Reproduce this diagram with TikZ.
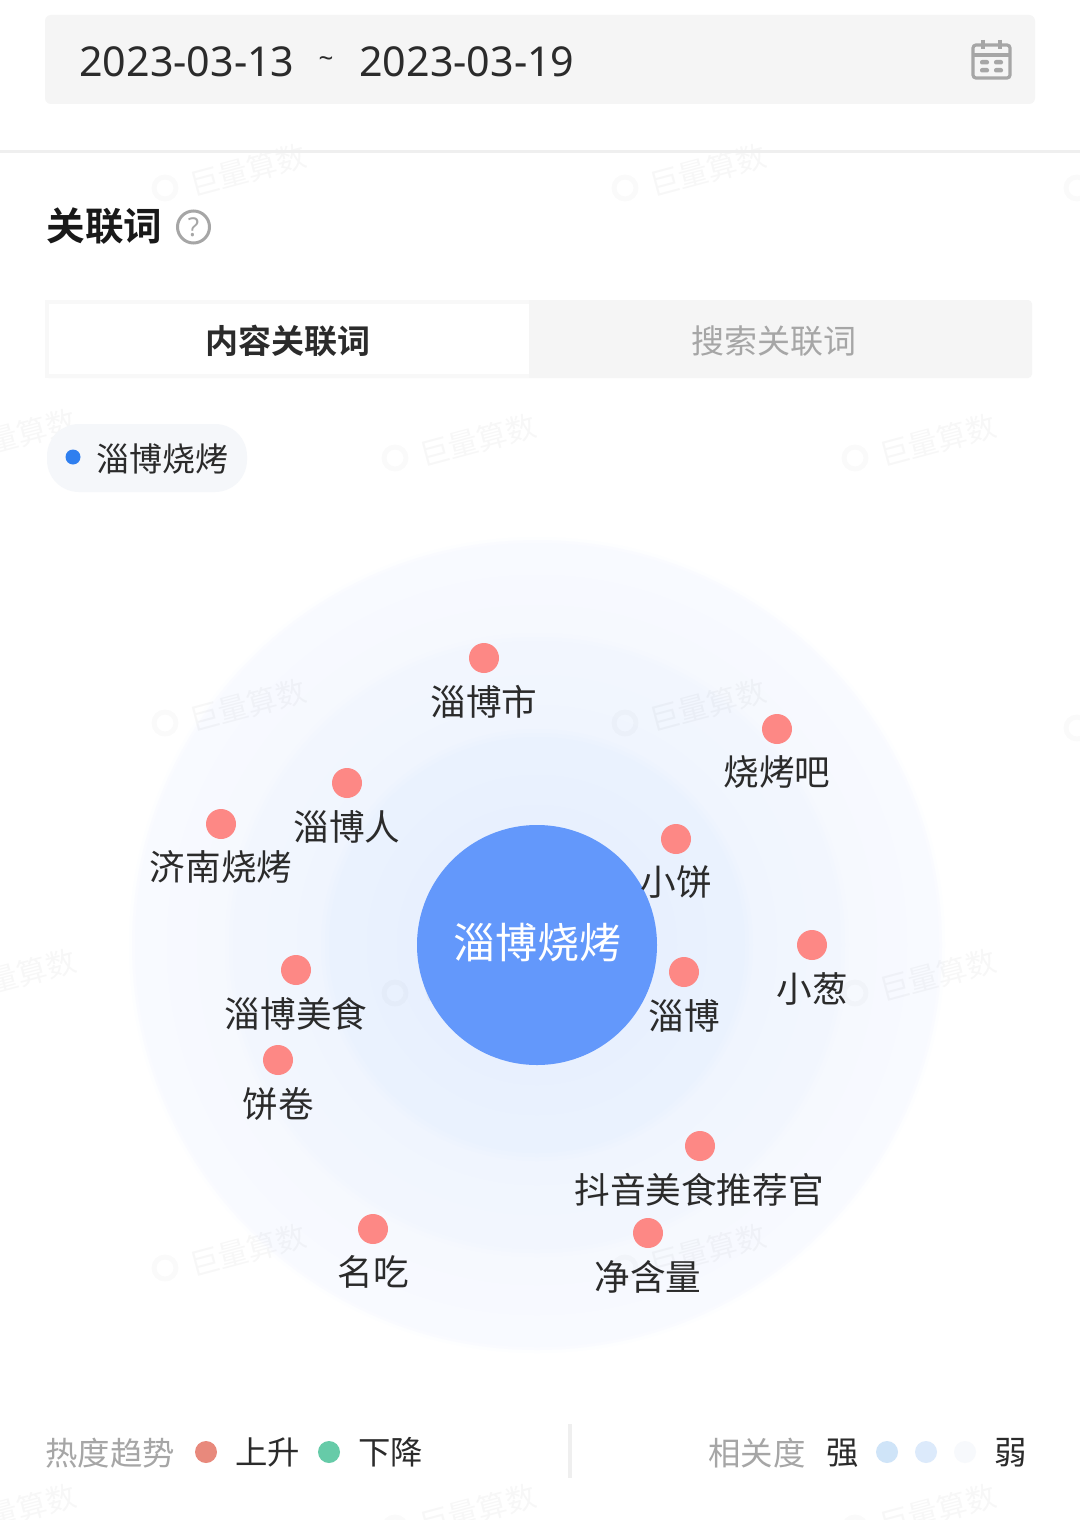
\documentclass[tikz,border=0pt]{standalone}
\usepackage{fontspec}
\setmainfont{Noto Sans}
\newfontfamily\cjk{Noto Sans CJK SC}
\newfontfamily\cjkb{Noto Sans CJK SC Bold}
\definecolor{panel}{HTML}{F5F5F5}
\definecolor{hub}{HTML}{6398FB}
\definecolor{dotred}{HTML}{FD8885}
\definecolor{ink}{HTML}{2B2B2B}
\definecolor{mute}{HTML}{A6A6A6}
\definecolor{chipbg}{HTML}{F5F7FA}
\definecolor{chipdot}{HTML}{2F7FEF}
\definecolor{legred}{HTML}{E8897C}
\definecolor{leggreen}{HTML}{66CBA8}
\definecolor{rela}{HTML}{CFE4F8}
\definecolor{relb}{HTML}{DCEAFB}
\definecolor{relc}{HTML}{F7F9FC}
\definecolor{sepline}{HTML}{EFEFEF}
\definecolor{tabedge}{HTML}{F8F8F8}
\tikzset{
  x=0.5pt,y=-0.5pt,
  lbl/.style={font=\cjk\fontsize{17.8}{20}\selectfont,text=ink,inner sep=0pt},
  dot/.style={circle,fill=dotred,draw=none,inner sep=0pt,minimum size=15pt},
  leg/.style={font=\cjk\fontsize{16.2}{18}\selectfont,inner sep=0pt,text=ink},
  legdot/.style={circle,draw=none,inner sep=0pt,minimum size=11pt},
  watermark/.style={font=\cjk\fontsize{15}{18}\selectfont,text=black,opacity=0.03,rotate=15,inner sep=0pt},
  wmlogo/.style={draw=black,draw opacity=0.02,line width=2.5pt,fill=none}
}
\begin{document}
\begin{tikzpicture}
\useasboundingbox (0,0) rectangle (1080,1520);
\fill[white] (0,0) rectangle (1080,1520);
% rings, soft-edged by stacked discs
\foreach \ringr/\ringc in {408/FDFEFF,405/FAFBFF,402/F8FAFF,370/F7F9FF,340/F6F9FE,312/F5F8FE,308/F3F7FE,304/F2F6FE,270/F1F6FE,240/F0F5FE,216/EEF4FE,212/ECF3FE,208/EAF2FE,170/E9F1FE,140/E8F0FE}{
  \definecolor{ringtint}{HTML}{\ringc}
  \fill[ringtint] (537,945) circle [radius=\ringr];
}
% watermarks
\foreach \wx/\wy [count=\wi] in {248/170,708/170,478/440,938/440,18/435,248/705,708/705,478/975,938/975,18/975,248/1250,708/1250,18/1510,478/1510,938/1510}{
  \node[watermark] (wm\wi) at (\wx,\wy) {巨量算数};
  \draw[wmlogo] (\wx-83,\wy+18) circle [radius=11];
}
\draw[wmlogo] (1077,188) circle [radius=11];
\draw[wmlogo] (1077,728) circle [radius=11];
% top date bar
\fill[panel,rounded corners=3pt] (45,15) rectangle (1035,104);
\node[font=\fontsize{20.6}{24}\selectfont,text=ink,anchor=west,inner sep=0pt] (datea) at (79,62) {2023-03-13};
\node[font=\fontsize{13}{14}\selectfont,text=ink,inner sep=0pt] (tilde) at (326,62) {\textasciitilde};
\node[font=\fontsize{20.6}{24}\selectfont,text=ink,anchor=west,inner sep=0pt] (dateb) at (359,62) {2023-03-19};
% calendar icon
\draw[mute,line width=1.6pt,rounded corners=1.5pt] (973,45) rectangle (1010,78);
\draw[mute,line width=1.6pt] (973,55) -- (1010,55);
\draw[mute,line width=1.6pt] (983,40) -- (983,49) (1000,40) -- (1000,49);
\foreach \cx in {980,994}{\foreach \cy in {60,68}{\fill[mute,rounded corners=1pt] (\cx,\cy) rectangle +(9,4.5);}}
\fill[sepline] (0,150) rectangle (1080,153);
% title
\node[font=\cjkb\fontsize{19.3}{22}\selectfont,text=black!90,anchor=west,inner sep=0pt] (title) at (46,226) {关联词};
\node[circle,draw=mute,line width=1.5pt,minimum size=16pt,inner sep=0pt,font=\fontsize{13}{14}\selectfont,text=mute] (help) at (193.5,227) {?};
% tabs
\fill[panel,rounded corners=2pt] (45,300) rectangle (1032,378);
\fill[tabedge] (45,300) rectangle (529,378);
\fill[white] (49,304) rectangle (529,374);
\node[font=\cjkb\fontsize{16.5}{20}\selectfont,text=ink,inner sep=0pt] (tabone) at (288,341) {内容关联词};
\node[font=\cjk\fontsize{16.5}{20}\selectfont,text=mute,inner sep=0pt] (tabtwo) at (774,341) {搜索关联词};
% chip
\fill[chipbg,rounded corners=16pt] (47,424) rectangle (247,492);
\fill[chipdot] (73,457) circle [radius=7.5];
\node[font=\cjk\fontsize{16.5}{20}\selectfont,text=ink,anchor=west,inner sep=0pt] (chip) at (96,459) {淄博烧烤};
% hub
\node[circle,fill=hub,draw=none,minimum size=120pt,inner sep=0pt] (hubnode) at (537,945) {};
\node[text=white,inner sep=0pt,font=\cjk\fontsize{21}{24}\selectfont] (hubtext) at (537,943) {淄博烧烤};
% word dots and labels
\foreach \nm/\dx/\dy/\lx/\ly/\txt in {
 a/484/658/484/702/淄博市,
 b/777/729/777/772/烧烤吧,
 c/347/783/347/827/淄博人,
 d/221/824/221/867/济南烧烤,
 e/676/839/676/882/小饼,
 f/812/945/812/989/小葱,
 g/684/972/684/1016/淄博,
 h/296/970/296/1014/淄博美食,
 i/278/1060/278/1104/饼卷,
 j/700/1146/699/1190/抖音美食推荐官,
 k/648/1233/648/1277/净含量,
 l/373/1229/373/1272/名吃}{
  \node[dot] (dot\nm) at (\dx,\dy) {};
  \node[lbl] (word\nm) at (\lx,\ly) {\txt};
}
% legend
\node[leg,text=mute,anchor=west] (legheat) at (45,1453) {热度趋势};
\node[legdot,fill=legred] (legup) at (206,1452) {};
\node[leg,anchor=west] (legupt) at (235,1452) {上升};
\node[legdot,fill=leggreen] (legdown) at (329,1452) {};
\node[leg,anchor=west] (legdownt) at (358,1452) {下降};
\fill[sepline] (568,1424) rectangle (572,1478);
\node[leg,text=mute,anchor=west] (legrel) at (708,1453) {相关度};
\node[leg,anchor=west] (legstrong) at (826,1453) {强};
\node[legdot,fill=rela] (relanode) at (887,1452) {};
\node[legdot,fill=relb] (relbnode) at (926,1452) {};
\node[legdot,fill=relc] (relcnode) at (965,1452) {};
\node[leg,anchor=west] (legweak) at (994,1453) {弱};
\end{tikzpicture}
\end{document}
